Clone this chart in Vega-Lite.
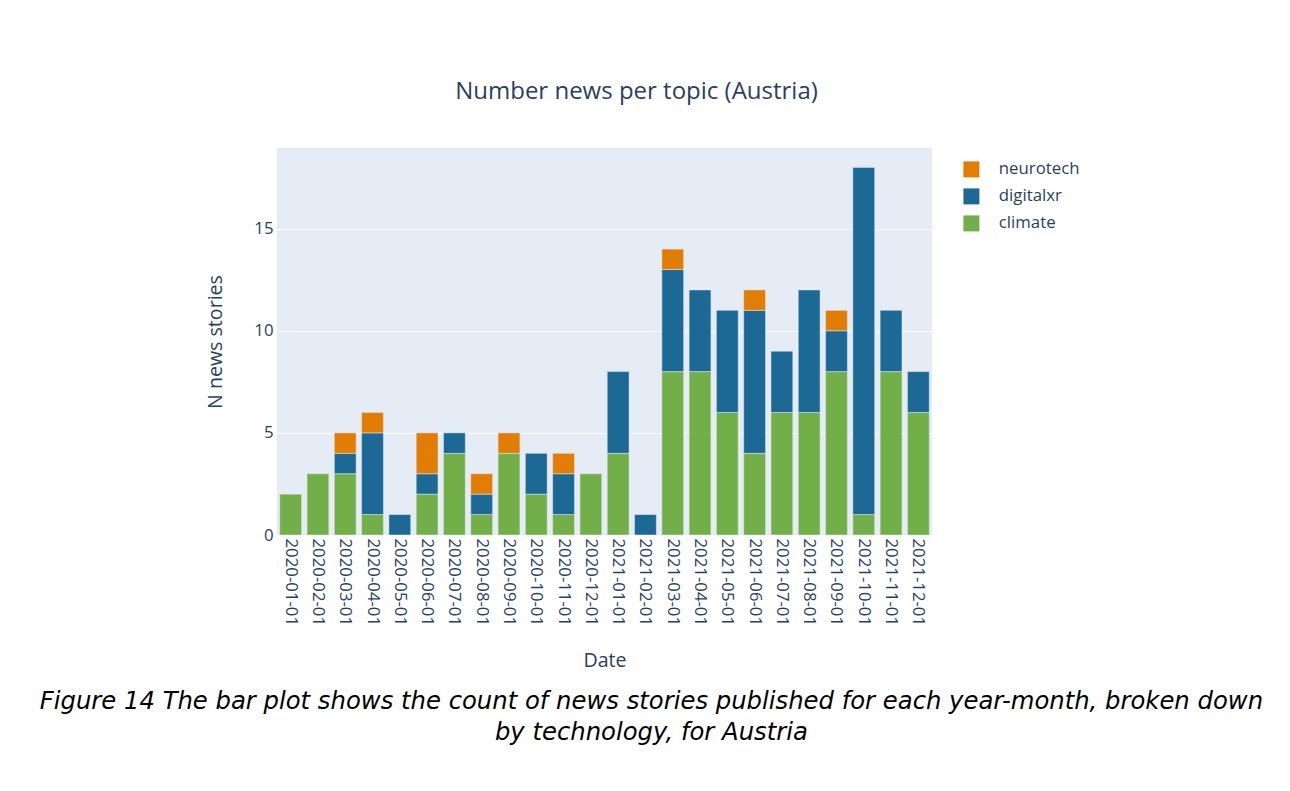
{
  "$schema": "https://vega.github.io/schema/vega-lite/v6.json",
  "background": "white",
  "padding": {"left": 39, "top": 80, "right": 5, "bottom": 5},
  "title": {
    "text": ["Figure 14 The bar plot shows the count of news stories published for each year-month, broken down", "by technology, for Austria"],
    "orient": "bottom",
    "anchor": "middle",
    "font": "DejaVu Sans",
    "fontStyle": "italic",
    "fontWeight": "normal",
    "fontSize": 24.3,
    "lineHeight": 31,
    "color": "black",
    "dx": 2,
    "offset": 20
  },
  "vconcat": [
    {
      "width": 655,
      "height": 387,
      "title": {
        "text": "Number news per topic (Austria)",
        "font": "Open Sans",
        "fontSize": 24,
        "fontWeight": "normal",
        "color": "#2a3f5f",
        "anchor": "middle",
        "dx": 32,
        "offset": 44
      },
      "data": {
        "values": [
          {"date": "2020-01-01", "topic": "climate", "count": 2},
          {"date": "2020-02-01", "topic": "climate", "count": 3},
          {"date": "2020-03-01", "topic": "climate", "count": 3},
          {"date": "2020-03-01", "topic": "digitalxr", "count": 1},
          {"date": "2020-03-01", "topic": "neurotech", "count": 1},
          {"date": "2020-04-01", "topic": "climate", "count": 1},
          {"date": "2020-04-01", "topic": "digitalxr", "count": 4},
          {"date": "2020-04-01", "topic": "neurotech", "count": 1},
          {"date": "2020-05-01", "topic": "digitalxr", "count": 1},
          {"date": "2020-06-01", "topic": "climate", "count": 2},
          {"date": "2020-06-01", "topic": "digitalxr", "count": 1},
          {"date": "2020-06-01", "topic": "neurotech", "count": 2},
          {"date": "2020-07-01", "topic": "climate", "count": 4},
          {"date": "2020-07-01", "topic": "digitalxr", "count": 1},
          {"date": "2020-08-01", "topic": "climate", "count": 1},
          {"date": "2020-08-01", "topic": "digitalxr", "count": 1},
          {"date": "2020-08-01", "topic": "neurotech", "count": 1},
          {"date": "2020-09-01", "topic": "climate", "count": 4},
          {"date": "2020-09-01", "topic": "neurotech", "count": 1},
          {"date": "2020-10-01", "topic": "climate", "count": 2},
          {"date": "2020-10-01", "topic": "digitalxr", "count": 2},
          {"date": "2020-11-01", "topic": "climate", "count": 1},
          {"date": "2020-11-01", "topic": "digitalxr", "count": 2},
          {"date": "2020-11-01", "topic": "neurotech", "count": 1},
          {"date": "2020-12-01", "topic": "climate", "count": 3},
          {"date": "2021-01-01", "topic": "climate", "count": 4},
          {"date": "2021-01-01", "topic": "digitalxr", "count": 4},
          {"date": "2021-02-01", "topic": "digitalxr", "count": 1},
          {"date": "2021-03-01", "topic": "climate", "count": 8},
          {"date": "2021-03-01", "topic": "digitalxr", "count": 5},
          {"date": "2021-03-01", "topic": "neurotech", "count": 1},
          {"date": "2021-04-01", "topic": "climate", "count": 8},
          {"date": "2021-04-01", "topic": "digitalxr", "count": 4},
          {"date": "2021-05-01", "topic": "climate", "count": 6},
          {"date": "2021-05-01", "topic": "digitalxr", "count": 5},
          {"date": "2021-06-01", "topic": "climate", "count": 4},
          {"date": "2021-06-01", "topic": "digitalxr", "count": 7},
          {"date": "2021-06-01", "topic": "neurotech", "count": 1},
          {"date": "2021-07-01", "topic": "climate", "count": 6},
          {"date": "2021-07-01", "topic": "digitalxr", "count": 3},
          {"date": "2021-08-01", "topic": "climate", "count": 6},
          {"date": "2021-08-01", "topic": "digitalxr", "count": 6},
          {"date": "2021-09-01", "topic": "climate", "count": 8},
          {"date": "2021-09-01", "topic": "digitalxr", "count": 2},
          {"date": "2021-09-01", "topic": "neurotech", "count": 1},
          {"date": "2021-10-01", "topic": "climate", "count": 1},
          {"date": "2021-10-01", "topic": "digitalxr", "count": 17},
          {"date": "2021-11-01", "topic": "climate", "count": 8},
          {"date": "2021-11-01", "topic": "digitalxr", "count": 3},
          {"date": "2021-12-01", "topic": "climate", "count": 6},
          {"date": "2021-12-01", "topic": "digitalxr", "count": 2}
        ]
      },
      "mark": {"type": "bar", "stroke": "#E5ECF6", "strokeWidth": 0.5},
      "encoding": {
        "x": {
          "field": "date",
          "type": "ordinal",
          "scale": {"paddingInner": 0.2, "paddingOuter": 0.1},
          "axis": {
            "title": "Date",
            "labelAngle": 90,
            "labelPadding": 3,
            "labelFontSize": 16.8,
            "titlePadding": 26
          }
        },
        "y": {
          "field": "count",
          "type": "quantitative",
          "stack": "zero",
          "scale": {"domain": [0, 18.95], "nice": false},
          "axis": {
            "title": "N news stories",
            "values": [0, 5, 10, 15],
            "labelPadding": 4,
            "labelFontSize": 16.8,
            "titlePadding": 28,
            "grid": true,
            "gridColor": "white",
            "gridWidth": 1
          }
        },
        "color": {
          "field": "topic",
          "type": "nominal",
          "scale": {
            "domain": ["neurotech", "digitalxr", "climate"],
            "range": ["#e17c05", "#1d6996", "#73af48"]
          },
          "legend": {
            "title": null,
            "orient": "right",
            "offset": 18,
            "padding": 13,
            "symbolType": "square",
            "symbolSize": 256,
            "symbolStrokeWidth": 0,
            "symbolFillOpacity": 1,
            "labelOffset": 19,
            "rowPadding": 9,
            "labelFont": "Open Sans",
            "labelFontSize": 16.8,
            "labelColor": "#2a3f5f"
          }
        },
        "order": {"field": "topic", "sort": "ascending"}
      }
    }
  ],
  "config": {
    "view": {"fill": "#E5ECF6", "stroke": null},
    "axis": {
      "domain": false,
      "ticks": false,
      "labelFont": "Open Sans",
      "labelColor": "#2a3f5f",
      "titleFont": "Open Sans",
      "titleFontSize": 19.6,
      "titleFontWeight": "normal",
      "titleColor": "#2a3f5f"
    },
    "axisX": {"grid": false}
  }
}
